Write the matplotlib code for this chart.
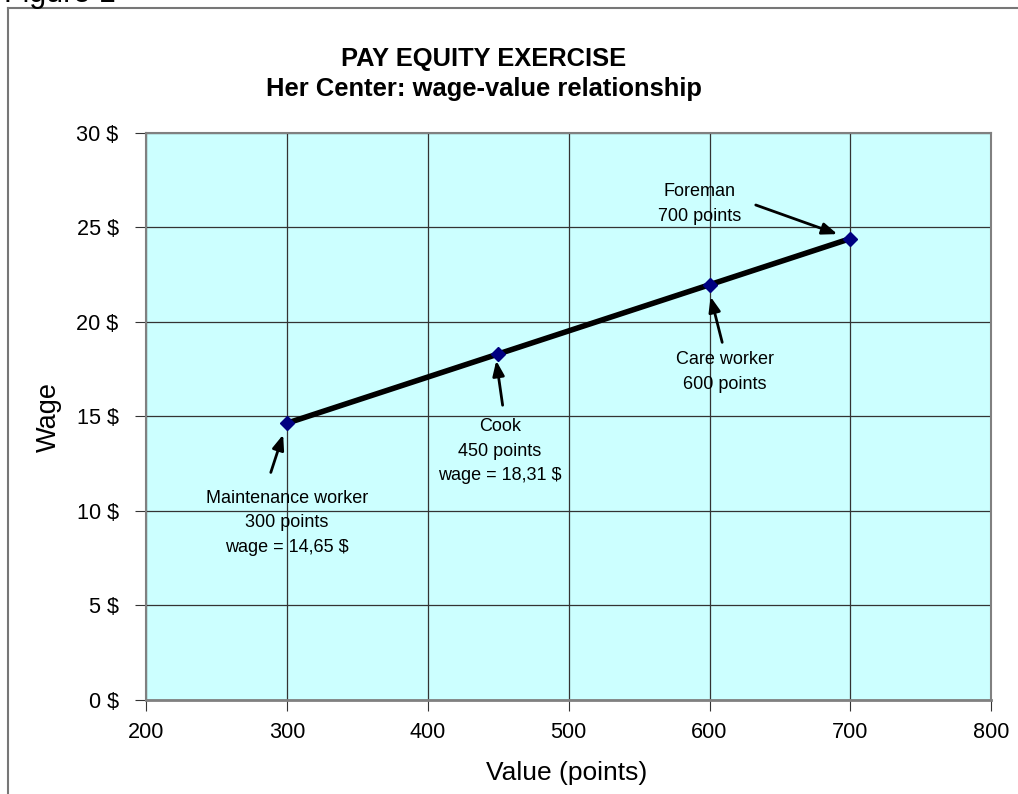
import matplotlib.pyplot as plt
from matplotlib.lines import Line2D

plt.rcParams['font.family'] = ['Liberation Sans', 'DejaVu Sans']

# dane
jobs = ['Maintenance worker', 'Cook', 'Care worker', 'Foreman']
points = [300, 450, 600, 700]
wages = [14.65, 18.31, 21.97, 24.41]
labels = ['Maintenance worker\n300 points\nwage = 14,65 $',
          'Cook\n450 points\nwage = 18,31 $',
          'Care worker\n600 points',
          'Foreman\n700 points']
# pozycje napisow i strzalek (w jednostkach danych)
text_xy = [(299.8, 9.37), (451.2, 13.17), (611, 17.35), (593.2, 26.24)]
tail_xy = [(287.7, 11.9), (453.3, 15.45), (609.5, 18.78), (631, 26.24)]
head_xy = [(297.7, 14.18), (448.2, 18.1), (600.3, 21.48), (692.7, 24.6)]

x_ticks = [200, 300, 400, 500, 600, 700, 800]
y_ticks = [0, 5, 10, 15, 20, 25, 30]

fig = plt.figure(figsize=(10.18, 7.94), dpi=100)
ax = fig.add_axes([0.1439, 0.1184, 0.8296, 0.7141])
ax.set_facecolor('#CCFFFF')

ax.plot(points, wages, color='black', lw=4, zorder=3)
ax.plot(points, wages, ls='none', marker='D', ms=7, color='#000080', zorder=4)

for lab, txy, t, h in zip(labels, text_xy, tail_xy, head_xy):
    ax.text(txy[0], txy[1], lab, ha='center', va='center', fontsize=13,
            linespacing=1.6, zorder=5)
    ax.annotate('', xy=h, xytext=t,
                arrowprops=dict(arrowstyle='-|>,head_length=0.9,head_width=0.35',
                                color='black', lw=2), zorder=5)

ax.set_xlim(200, 800)
ax.set_ylim(0, 30)
ax.set_xticks(x_ticks)
ax.set_yticks(y_ticks)
ax.set_yticklabels([f'{v} $' for v in y_ticks])
ax.tick_params(labelsize=15.6, length=8, color='#333333')
ax.tick_params(axis='y', pad=12)
ax.tick_params(axis='x', pad=8)
ax.grid(True, color='#333333', lw=0.9)
ax.set_axisbelow(True)
for s in ax.spines.values():
    s.set_color('#808080')
    s.set_linewidth(1.5)
ax.spines['bottom'].set_linewidth(2)

ax.set_xlabel('Value (points)', fontsize=19)
ax.xaxis.set_label_coords(0.497, -0.108)
ax.set_ylabel('Wage', fontsize=19.5)
ax.yaxis.set_label_coords(-0.100, 0.499)

fig.text(484 / 1018, 1 - 74 / 794,
         'PAY EQUITY EXERCISE\nHer Center: wage-value relationship',
         fontsize=18.4, fontweight='bold', ha='center', va='center',
         multialignment='center', linespacing=1.3)

# ramka i obciety napis "Figure 1"
fig.add_artist(Line2D([8 / 1018, 8 / 1018], [0, 1 - 8 / 794], color='#777777', lw=1.5))
fig.add_artist(Line2D([8 / 1018, 1], [1 - 8 / 794, 1 - 8 / 794], color='#777777', lw=1.5))
fig.text(0.004, 1 - 2 / 794, 'Figure 1', fontsize=22, va='baseline')

plt.savefig('out.png', dpi=100)
